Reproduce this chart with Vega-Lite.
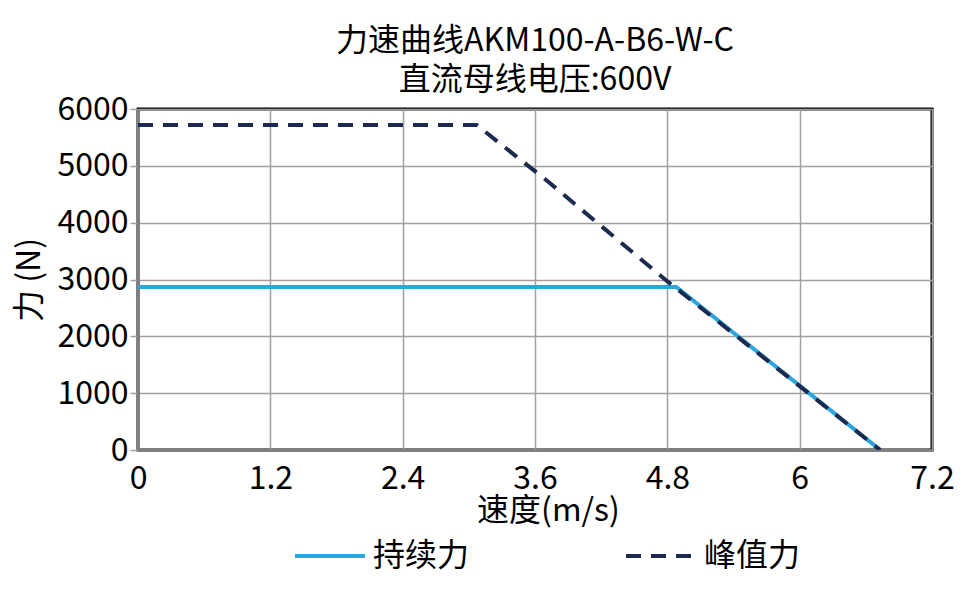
{
  "$schema": "https://vega.github.io/schema/vega-lite/v6.json",
  "width": 794,
  "height": 341,
  "autosize": "none",
  "padding": {"left": 138, "top": 109, "right": 45, "bottom": 143},
  "background": "white",
  "config": {
    "font": "Noto Sans CJK SC",
    "view": {"stroke": "black", "strokeWidth": 3}
  },
  "title": {
    "text": ["力速曲线AKM100-A-B6-W-C", "直流母线电压:600V"],
    "fontSize": 32,
    "fontWeight": "normal",
    "anchor": "middle",
    "offset": -4,
    "lineHeight": 39,
    "color": "black"
  },
  "data": {
    "values": [
      {"speed": 0, "force": 2870, "curve": "持续力"},
      {"speed": 4.88, "force": 2870, "curve": "持续力"},
      {"speed": 6.73, "force": 0, "curve": "持续力"},
      {"speed": 0, "force": 5720, "curve": "峰值力"},
      {"speed": 3.07, "force": 5720, "curve": "峰值力"},
      {"speed": 3.72, "force": 4720, "curve": "峰值力"},
      {"speed": 4.78, "force": 3000, "curve": "峰值力"},
      {"speed": 6.73, "force": 0, "curve": "峰值力"}
    ]
  },
  "mark": {"type": "line", "strokeWidth": 4, "clip": true},
  "encoding": {
    "x": {
      "field": "speed",
      "type": "quantitative",
      "title": "速度(m/s)",
      "scale": {"domain": [0, 7.2], "nice": false},
      "axis": {
        "values": [0, 1.2, 2.4, 3.6, 4.8, 6, 7.2],
        "format": ".1~f",
        "labelFontSize": 32,
        "labelColor": "black",
        "labelPadding": 13,
        "labelFlush": false,
        "ticks": false,
        "domainColor": "#808080",
        "domainWidth": 3,
        "gridColor": "#a0a0a0",
        "gridWidth": 1.5,
        "titleFontSize": 32,
        "titleFontWeight": "normal",
        "titleColor": "black",
        "titlePadding": 1,
        "titleX": 410
      }
    },
    "y": {
      "field": "force",
      "type": "quantitative",
      "title": "力 (N)",
      "scale": {"domain": [0, 6000], "nice": false},
      "axis": {
        "values": [0, 1000, 2000, 3000, 4000, 5000, 6000],
        "format": "d",
        "labelFontSize": 32,
        "labelColor": "black",
        "labelPadding": 2,
        "tickSize": 8,
        "tickColor": "#a0a0a0",
        "tickWidth": 1.5,
        "domainColor": "#808080",
        "domainWidth": 3,
        "gridColor": "#a0a0a0",
        "gridWidth": 1.5,
        "titleFontSize": 32,
        "titleFontWeight": "normal",
        "titleColor": "black",
        "titlePadding": 10
      }
    },
    "color": {
      "field": "curve",
      "type": "nominal",
      "scale": {"domain": ["持续力", "峰值力"], "range": ["#29a6de", "#1c2a4f"]},
      "legend": {
        "title": null,
        "orient": "none",
        "legendX": 155,
        "legendY": 410,
        "direction": "horizontal",
        "symbolType": "stroke",
        "symbolSize": 4900,
        "symbolStrokeWidth": 4,
        "labelFontSize": 32,
        "labelColor": "black",
        "labelOffset": 6,
        "columnPadding": 148
      }
    },
    "strokeDash": {
      "field": "curve",
      "type": "nominal",
      "scale": {"domain": ["持续力", "峰值力"], "range": [[1, 0], [15, 10]]},
      "legend": null
    }
  }
}
